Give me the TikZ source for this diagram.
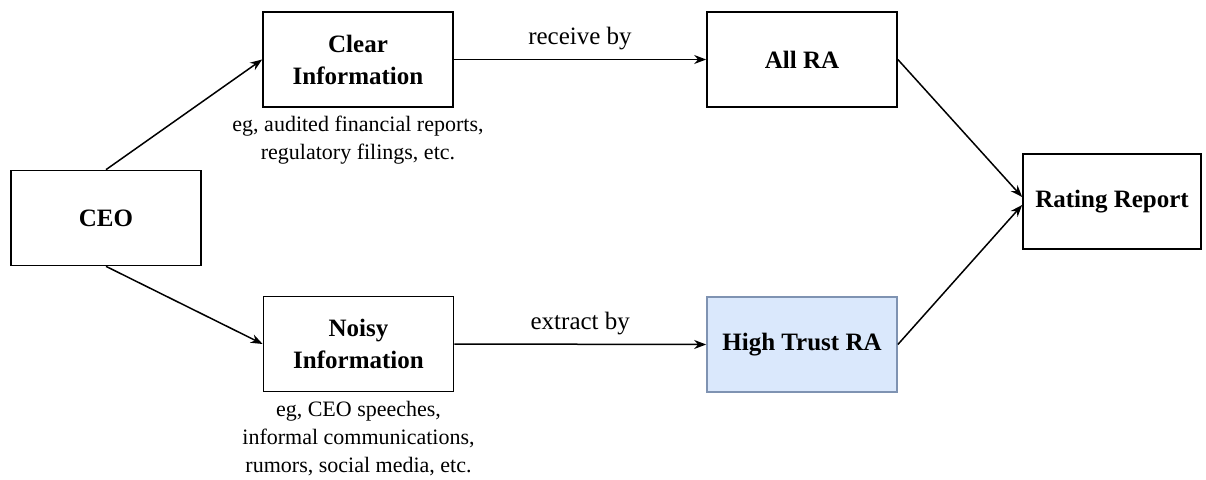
\documentclass[tikz,border=0pt]{standalone}
\usepackage{fontspec}
\setmainfont{Liberation Serif}
\usepackage{tikz}
\usetikzlibrary{arrows.meta,positioning}
\definecolor{trustfill}{HTML}{DAE8FC}
\definecolor{trustline}{HTML}{7F93B2}

\begin{document}
\begin{tikzpicture}[x=1pt,y=-1pt]
  \tikzstyle{arrow}=[line width=1.5pt,-{Stealth[length=12pt,width=9pt]},black]
  \tikzstyle{block}=[draw,line width=1.7pt,minimum width=190pt,minimum height=95pt,
                     align=center,font=\fontsize{25}{32}\selectfont\bfseries]
  \tikzstyle{note}=[align=center,font=\fontsize{22}{28}\selectfont]
  \tikzstyle{edge_txt}=[above=6pt,font=\fontsize{25}{30}\selectfont]

  \useasboundingbox (0,0) rectangle (1206,479);

  % block on left
  \node [block] (ceo) at (106,218) {CEO};

  % blocks in the second column
  \node [block] (clear) at (358,59.5) {Clear\\Information};
  \node [note,below=5pt of clear] (clearnote) {eg, audited financial reports,\\regulatory filings, etc.};

  \node [block] (noisy) at (358.5,344) {Noisy\\Information};
  \node [note,below=5pt of noisy] (noisynote) {eg, CEO speeches,\\informal communications,\\rumors, social media, etc.};

  % blocks in the third column
  \node [block] (allra) at (802,59.5) {All RA};
  \node [block,fill=trustfill,draw=trustline] (hightrust) at (802,344.5) {High Trust RA};

  % the last column
  \node [block,minimum width=178pt] (rating) at (1112,201.5) {Rating Report};

  % lines from CEO
  \draw [arrow] (ceo.north) -- (clear.west);
  \draw [arrow] (ceo.south) -- (noisy.west);

  % lines to the agencies
  \draw [arrow] (clear.east) -- node [edge_txt] {receive by} (allra.west);
  \draw [arrow] (noisy.east) -- node [edge_txt,above=5pt] {extract by} (hightrust.west);

  % lines to the report
  \draw [arrow] (allra.east) -- ([yshift=4.5pt]rating.west);
  \draw [arrow] (hightrust.east) -- ([yshift=-3.5pt]rating.west);

\end{tikzpicture}
\end{document}
